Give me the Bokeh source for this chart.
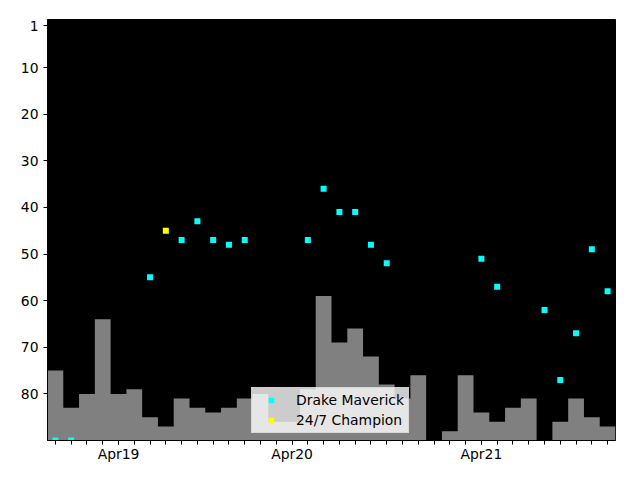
from bokeh.plotting import figure
from bokeh.models import Range1d, FixedTicker, Legend, LegendItem
from bokeh.embed import file_html
from bokeh.resources import INLINE

# ---- data ----
bar_idx = [0, 1, 2, 3, 4, 5, 6, 7, 8, 9, 10, 11, 12, 13, 14, 15, 16, 17, 18, 19,
           20, 21, 22, 23, 25, 26, 27, 28, 29, 30, 32, 33, 34, 35]
bar_rank = [75, 83, 80, 64, 80, 79, 85, 87, 81, 83, 84, 83, 81, 80, 86, 86, 79, 59, 69, 66,
            72, 78, 81, 76, 88, 76, 84, 86, 83, 81, 86, 81, 85, 87]

drake_idx = [0, 1, 6, 8, 9, 10, 11, 12, 16, 17, 18, 19, 20, 21, 27, 28, 31, 32, 33, 34, 35]
drake_rank = [90, 90, 55, 47, 43, 47, 48, 47, 47, 36, 41, 41, 48, 52, 51, 57, 62, 77, 67, 49, 58]

champ_idx = [7]
champ_rank = [45]

all_idx = list(range(36))
tick_idx = [4, 15, 27]
tick_labels = ["Apr19", "Apr20", "Apr21"]
y_ticks = [1, 10, 20, 30, 40, 50, 60, 70, 80]
rank_floor = 90

FONT = "DejaVu Sans"
FS = "13.9px"

p = figure(width=624, height=464, output_backend="svg", toolbar_location=None,
           x_range=Range1d(-0.5, 35.5), y_range=Range1d(rank_floor, -0.3),
           min_border_left=47, min_border_right=9, min_border_top=19, min_border_bottom=23)

p.background_fill_color = "black"
p.border_fill_color = "white"
p.outline_line_color = "black"
p.xgrid.grid_line_color = None
p.ygrid.grid_line_color = None

# bars drawn as one stepped area (no seams between adjacent bars)
full = [rank_floor] * len(all_idx)
for i, v in zip(bar_idx, bar_rank):
    full[i] = v
edges = [i - 0.5 for i in all_idx] + [all_idx[-1] + 0.5]
p.varea_step(x=edges, y1=full + [full[-1]], y2=[rank_floor] * len(edges),
             step_mode="after", fill_color="#808080")

r1 = p.scatter(drake_idx, drake_rank, marker="square", size=6,
               fill_color="#00ffff", line_color=None)
r2 = p.scatter(champ_idx, champ_rank, marker="square", size=6,
               fill_color="#ffff00", line_color=None)

# axes
p.xaxis.ticker = FixedTicker(ticks=tick_idx, minor_ticks=all_idx)
p.xaxis.major_label_overrides = {i: t for i, t in zip(tick_idx, tick_labels)}
p.yaxis.ticker = FixedTicker(ticks=y_ticks)
for ax in (p.xaxis, p.yaxis):
    ax.major_tick_in = 0
    ax.major_tick_out = 4
    ax.minor_tick_in = 0
    ax.minor_tick_out = 4
    ax.major_label_text_font = FONT
    ax.major_label_text_font_size = FS
    ax.major_label_text_color = "black"
    ax.axis_line_color = "black"
    ax.major_tick_line_color = "black"
    ax.minor_tick_line_color = "black"
    ax.major_label_standoff = 5
p.xaxis.major_label_standoff = 1
p.yaxis.minor_tick_line_color = None

legend = Legend(items=[LegendItem(label="Drake Maverick", renderers=[r1]),
                       LegendItem(label="24/7 Champion", renderers=[r2])],
                location=(204, 7))
legend.background_fill_color = "white"
legend.background_fill_alpha = 0.8
legend.border_line_color = "#cccccc"
legend.label_text_font = FONT
legend.label_text_font_size = FS
legend.label_text_color = "black"
legend.padding = 4
legend.glyph_width = 30
legend.glyph_height = 14
legend.spacing = 4
legend.label_standoff = 10
legend.margin = 0
p.add_layout(legend, "center")

open("out.html", "w").write(file_html(p, INLINE))
